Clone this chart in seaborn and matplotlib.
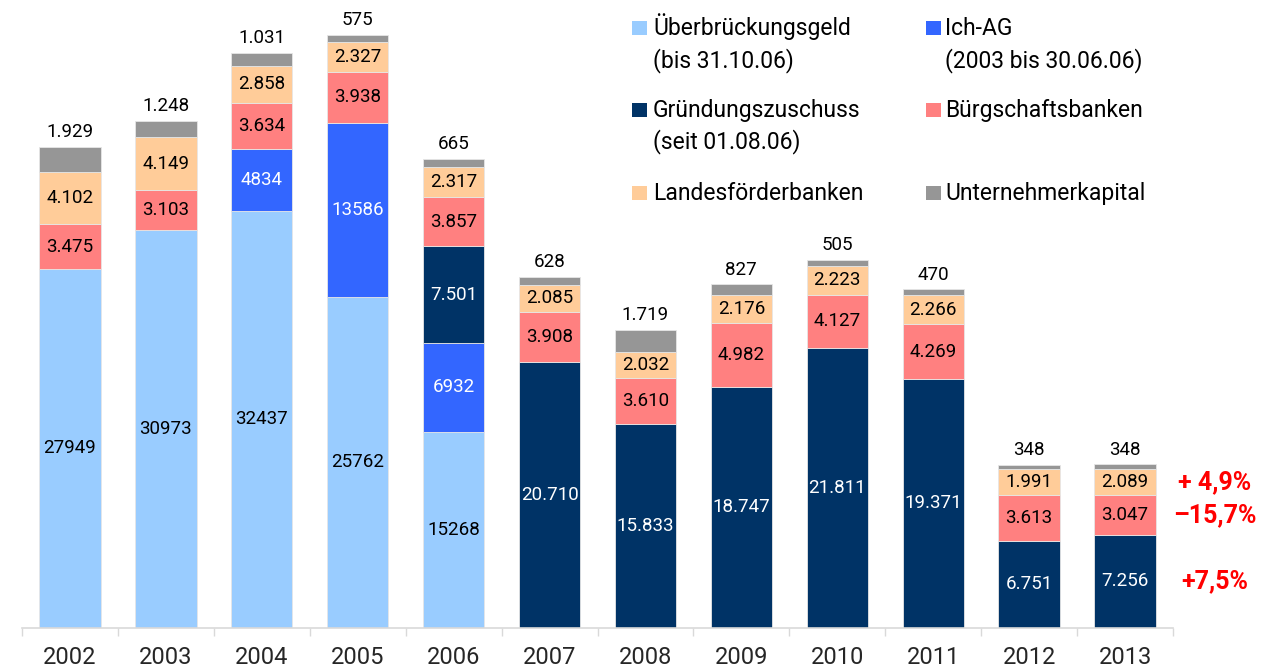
import numpy as np
import seaborn as sns
import matplotlib.pyplot as plt
from matplotlib.patches import Rectangle

sns.set_style('white')
plt.rcParams['font.family'] = ['Roboto', 'DejaVu Sans']

W, H = 1261, 670

years = ['2002', '2003', '2004', '2005', '2006', '2007',
         '2008', '2009', '2010', '2011', '2012', '2013']

ueberbrueckung = [27949, 30973, 32437, 25762, 15268, 0, 0, 0, 0, 0, 0, 0]
ich_ag = [0, 0, 4834, 13586, 6932, 0, 0, 0, 0, 0, 0, 0]
gruendung = [0, 0, 0, 0, 7501, 20710, 15833, 18747, 21811, 19371, 6751, 7256]
buergschaft = [3475, 3103, 3634, 3938, 3857, 3908, 3610, 4982, 4127, 4269, 3613, 3047]
landes = [4102, 4149, 2858, 2327, 2317, 2085, 2032, 2176, 2223, 2266, 1991, 2089]
unternehmer = [1929, 1248, 1031, 575, 665, 628, 1719, 827, 505, 470, 348, 348]

change_labels = ['+7,5%', '–15,7%', '+ 4,9%']  # Gründung, Bürgschaft, Landes 2013 vs 2012

series = [
    (ueberbrueckung, '#99CCFF', '#000000', False),
    (ich_ag, '#3366FF', '#ffffff', False),
    (gruendung, '#003366', '#ffffff', True),
    (buergschaft, '#FF8080', '#000000', True),
    (landes, '#FFCC99', '#000000', True),
]


def fmt(v, dotted):
    if v == 0:
        return ''
    return f"{v:,}".replace(',', '.') if dotted else str(v)


fig = plt.figure(figsize=(W / 100, H / 100), dpi=100)
ax = fig.add_axes([22 / W, 1 - 627.7 / H, 1151 / W, 627.7 / H])

bottom = np.zeros(len(years))
for vals, col, tcol, dotted in series:
    sns.barplot(x=years, y=vals, bottom=bottom, color=col, saturation=1,
                width=0.64, errorbar=None, edgecolor='#e6e6e6', linewidth=0.6, ax=ax)
    ax.bar_label(ax.containers[-1], labels=[fmt(v, dotted) for v in vals],
                 label_type='center', color=tcol, fontsize=13.5)
    bottom = bottom + np.array(vals)

sns.barplot(x=years, y=unternehmer, bottom=bottom, color='#969696', saturation=1,
            width=0.64, errorbar=None, edgecolor='#e6e6e6', linewidth=0.6, ax=ax)
ax.bar_label(ax.containers[-1], labels=[fmt(v, True) for v in unternehmer],
             label_type='edge', padding=4, color='#000000', fontsize=13.5)

ax.set_xlim(-0.5, len(years) - 0.5)
ax.set_ylim(0, 48890)
ax.set_xlabel('')
ax.set_ylabel('')
ax.set_yticks([])
for s in ['top', 'left', 'right']:
    ax.spines[s].set_visible(False)
ax.spines['bottom'].set_color('#d9d9d9')
ax.spines['bottom'].set_linewidth(1.2)
ax.set_xticks(np.arange(-0.5, len(years), 1), minor=True)
ax.tick_params(axis='x', which='major', length=0, pad=13, labelsize=17)
ax.tick_params(axis='x', which='minor', bottom=True, length=6, width=1, color='#d9d9d9')
ax.set_facecolor('none')

# change annotations beside the 2013 bar
last = len(years) - 1
centers = [gruendung[last] / 2,
           gruendung[last] + buergschaft[last] / 2,
           gruendung[last] + buergschaft[last] + landes[last] / 2]
for txt, yv in zip(change_labels, centers):
    ax.annotate(txt, xy=(1215 / W, yv), xycoords=('figure fraction', 'data'),
                ha='center', va='center', color='#FF0000', fontsize=18,
                fontweight='bold', annotation_clip=False)

# legend, drawn by hand
legend_items = [
    (632, 653, [35, 67], ['Überbrückungsgeld', '(bis 31.10.06)'], '#99CCFF'),
    (926, 945, [35, 67], ['Ich-AG', '(2003 bis 30.06.06)'], '#3366FF'),
    (632, 653, [117, 148], ['Gründungszuschuss', '(seit 01.08.06)'], '#003366'),
    (926, 945, [117], ['Bürgschaftsbanken'], '#FF8080'),
    (632, 653, [200], ['Landesförderbanken'], '#FFCC99'),
    (926, 945, [200], ['Unternehmerkapital'], '#969696'),
]
for sx, tx, bases, lines, col in legend_items:
    fig.add_artist(Rectangle((sx / W, 1 - bases[0] / H), 15 / W, 14 / H,
                             transform=fig.transFigure, facecolor=col, edgecolor='none'))
    for b, line in zip(bases, lines):
        fig.text(tx / W, 1 - b / H, line, ha='left', va='baseline',
                 fontsize=16.5, color='#000000')

fig.savefig('out.png', dpi=100)
